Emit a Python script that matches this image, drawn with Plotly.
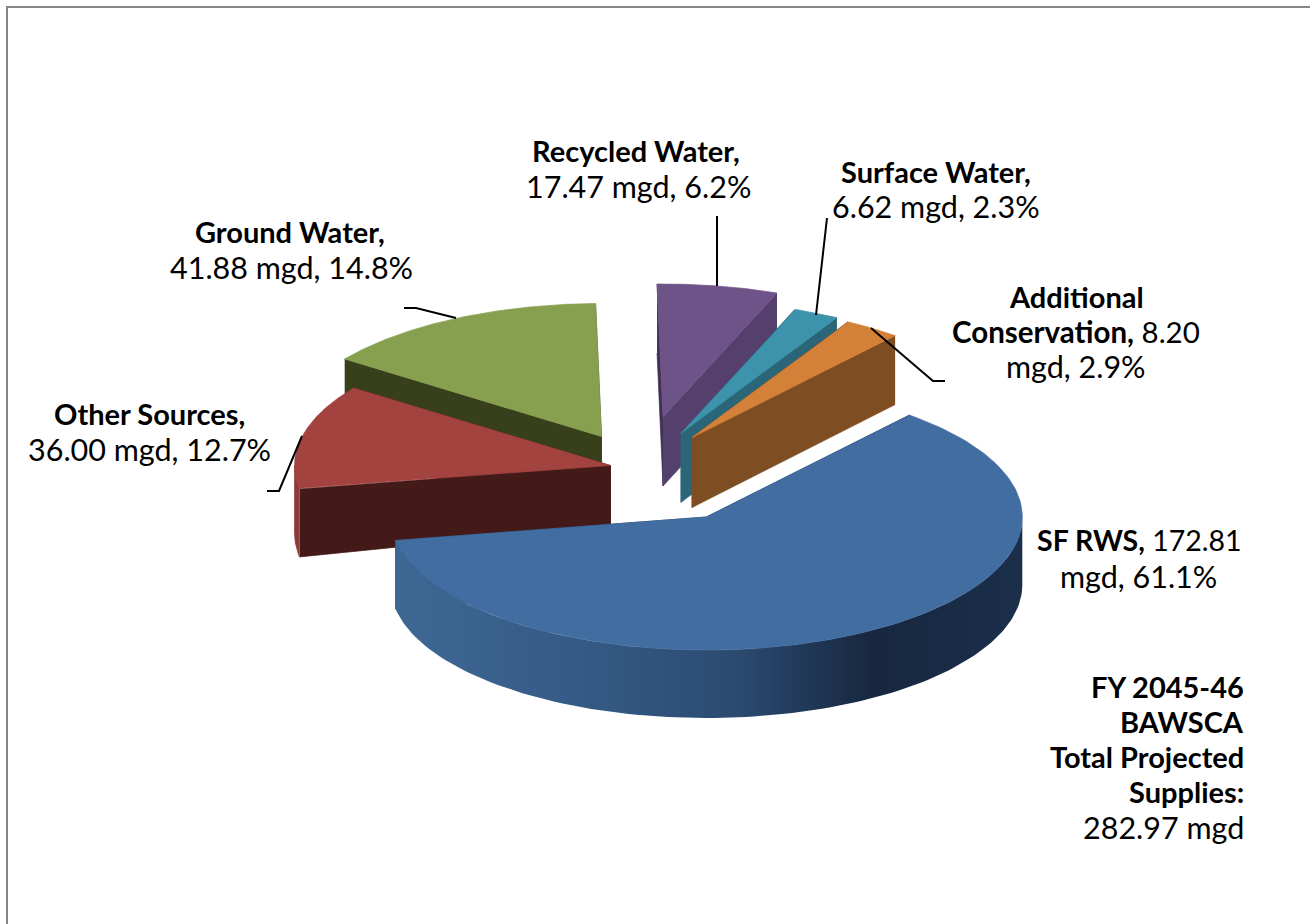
import numpy as np
import plotly.graph_objects as go

# ---- data -------------------------------------------------------------
categories = ["SF RWS", "Other Sources", "Ground Water", "Recycled Water",
              "Surface Water", "Additional Conservation"]
values_mgd = [172.81, 36.00, 41.88, 17.47, 6.62, 8.20]
total_label = ["FY 2045-46", "BAWSCA", "Total Projected", "Supplies:", "282.97 mgd"]

# ---- layout of the exploded 3-D pie (chart pixels) ----------------------
FIRST_ANGLE = 40.0            # degrees clockwise from 12 o'clock
RX, RY = 316.0, 133.0
centres = [(706.3, 517), (610.5, 465.5), (601.5, 436.5), (663, 417), (681, 433.3), (692, 437.5)]
depths = [(68, 68), (60, 68), (60, 60), (69, 69), (69, 69), (70, 69)]  # apex, rim
top_col = ["#426da1", "#a34340", "#87a04f", "#6e5389", "#3d93ab", "#d38138"]
end_col = ["#1b2f4b", "#441a18", "#373f1b", "#553f6c", "#2b6678", "#7f4d22"]
start_col = ["#1b2f4b", "#441a18", "#373f1b", "#3f2f52", "#2b6678", "#7f4d22"]
rim_col = ["#2c4a70", "#8c3a37", "#373f1b", "#553f6c", "#2b6678", "#7f4d22"]
draw_order = [2, 1, 3, 4, 5, 0]
FONT = "Lato"
SIZE_BOLD, SIZE_PLAIN, SIZE_MIXED = 29, 30.5, 29.5

fig = go.Figure()


def poly(xs, ys, color, edge=True, **kw):
    fig.add_trace(go.Scatter(x=list(xs), y=list(ys), mode="lines", fill="toself",
                             fillcolor=color, line=dict(width=0.7 if edge else 0, color=color),
                             hoverinfo="skip", showlegend=False, **kw))


def rim_xy(c, deg):
    a = np.radians(deg)
    return c[0] + RX * np.sin(a), c[1] - RY * np.cos(a)


total = sum(values_mgd)
edges = FIRST_ANGLE + np.concatenate([[0], np.cumsum(values_mgd)]) / total * 360
for i in draw_order:
    c = centres[i]
    d_apex, d_rim = depths[i]
    a0, a1 = edges[i], edges[i + 1]
    x0, y0 = rim_xy(c, a0)
    x1, y1 = rim_xy(c, a1)
    # cut faces
    poly([x0, c[0], c[0], x0], [y0, c[1], c[1] + d_apex, y0 + d_rim], start_col[i])
    poly([x1, c[0], c[0], x1], [y1, c[1], c[1] + d_apex, y1 + d_rim], end_col[i])
    # outer wall, only where it faces the viewer
    lo, hi = max(a0, 90), min(a1, 270)
    if hi > lo:
        t = np.linspace(lo, hi, 120)
        xr, yr = rim_xy(c, t)
        xs = np.concatenate([xr, xr[::-1]])
        ys = np.concatenate([yr, (yr + d_rim)[::-1]])
        if i == 0:
            poly(xs, ys, rim_col[i], edge=False, fillgradient=dict(
                type="horizontal",
                colorscale=[[0, "#3e6894"], [0.3, "#345a85"], [0.55, "#2b4a70"],
                            [0.76, "#17273f"], [1, "#1b2f4b"]]))
        else:
            poly(xs, ys, rim_col[i])
    # top
    t = np.linspace(a0, a1, 160)
    xr, yr = rim_xy(c, t)
    poly(np.concatenate([[c[0]], xr, [c[0]]]), np.concatenate([[c[1]], yr, [c[1]]]), top_col[i])

# leader lines
leaders = [([717, 717], [216, 286]),
           ([827, 816], [218, 315]),
           ([871, 933, 945], [328, 381, 381]),
           ([456, 416, 404], [318, 308, 308]),
           ([302, 279, 267], [436, 491, 491])]
for lx, ly in leaders:
    fig.add_trace(go.Scatter(x=lx, y=ly, mode="lines", line=dict(color="black", width=2),
                             hoverinfo="skip", showlegend=False))

# chart border
fig.add_trace(go.Scatter(x=[7, 7, 1310], y=[924, 7, 7], mode="lines",
                         line=dict(color="#868686", width=2),
                         hoverinfo="skip", showlegend=False))


def pct(i):
    return f"{values_mgd[i] / total * 100:.1f}%"


def mgd(i):
    return f"{values_mgd[i]:.2f} mgd"


labels = [
    (636, 150, f"<b>{categories[3]},</b>", "center", SIZE_BOLD),
    (638, 186, f"{mgd(3)}, {pct(3)}", "center", SIZE_PLAIN),
    (936, 171, f"<b>{categories[4]},</b>", "center", SIZE_BOLD),
    (936, 206, f"{mgd(4)}, {pct(4)}", "center", SIZE_PLAIN),
    (1076, 296, "<b>Additional</b>", "center", SIZE_BOLD),
    (1076, 331, f"<b>Conservation,</b> {values_mgd[5]:.2f}", "center", SIZE_MIXED),
    (1076, 366, f"mgd, {pct(5)}", "center", SIZE_PLAIN),
    (290, 231, f"<b>{categories[2]},</b>", "center", SIZE_BOLD),
    (291, 267, f"{mgd(2)}, {pct(2)}", "center", SIZE_PLAIN),
    (149, 413, f"<b>{categories[1]},</b>", "center", SIZE_BOLD),
    (149, 449, f"{mgd(1)}, {pct(1)}", "center", SIZE_PLAIN),
    (1139, 540, f"<b>{categories[0]},</b> {values_mgd[0]:.2f}", "center", 28.5),
    (1138, 576, f"mgd, {pct(0)}", "center", SIZE_PLAIN),
]
for k, (yy, txt) in enumerate(zip([686, 721, 756, 791, 827], total_label)):
    labels.append((1246, yy, f"<b>{txt}</b>" if k < 4 else txt, "right",
                   SIZE_BOLD if k < 4 else SIZE_PLAIN))

for x, y, txt, anchor, size in labels:
    fig.add_annotation(x=x, y=y, text=txt, showarrow=False, xanchor=anchor, yanchor="middle",
                       font=dict(family=FONT, size=size, color="black"))

fig.update_layout(width=1310, height=924, margin=dict(l=0, r=0, t=0, b=0),
                  paper_bgcolor="white", plot_bgcolor="white", showlegend=False,
                  xaxis=dict(range=[0, 1310], visible=False, fixedrange=True),
                  yaxis=dict(range=[924, 0], visible=False, fixedrange=True))
fig.write_html("out.html", post_script="document.body.style.margin='0';",
               config=dict(displayModeBar=False))
